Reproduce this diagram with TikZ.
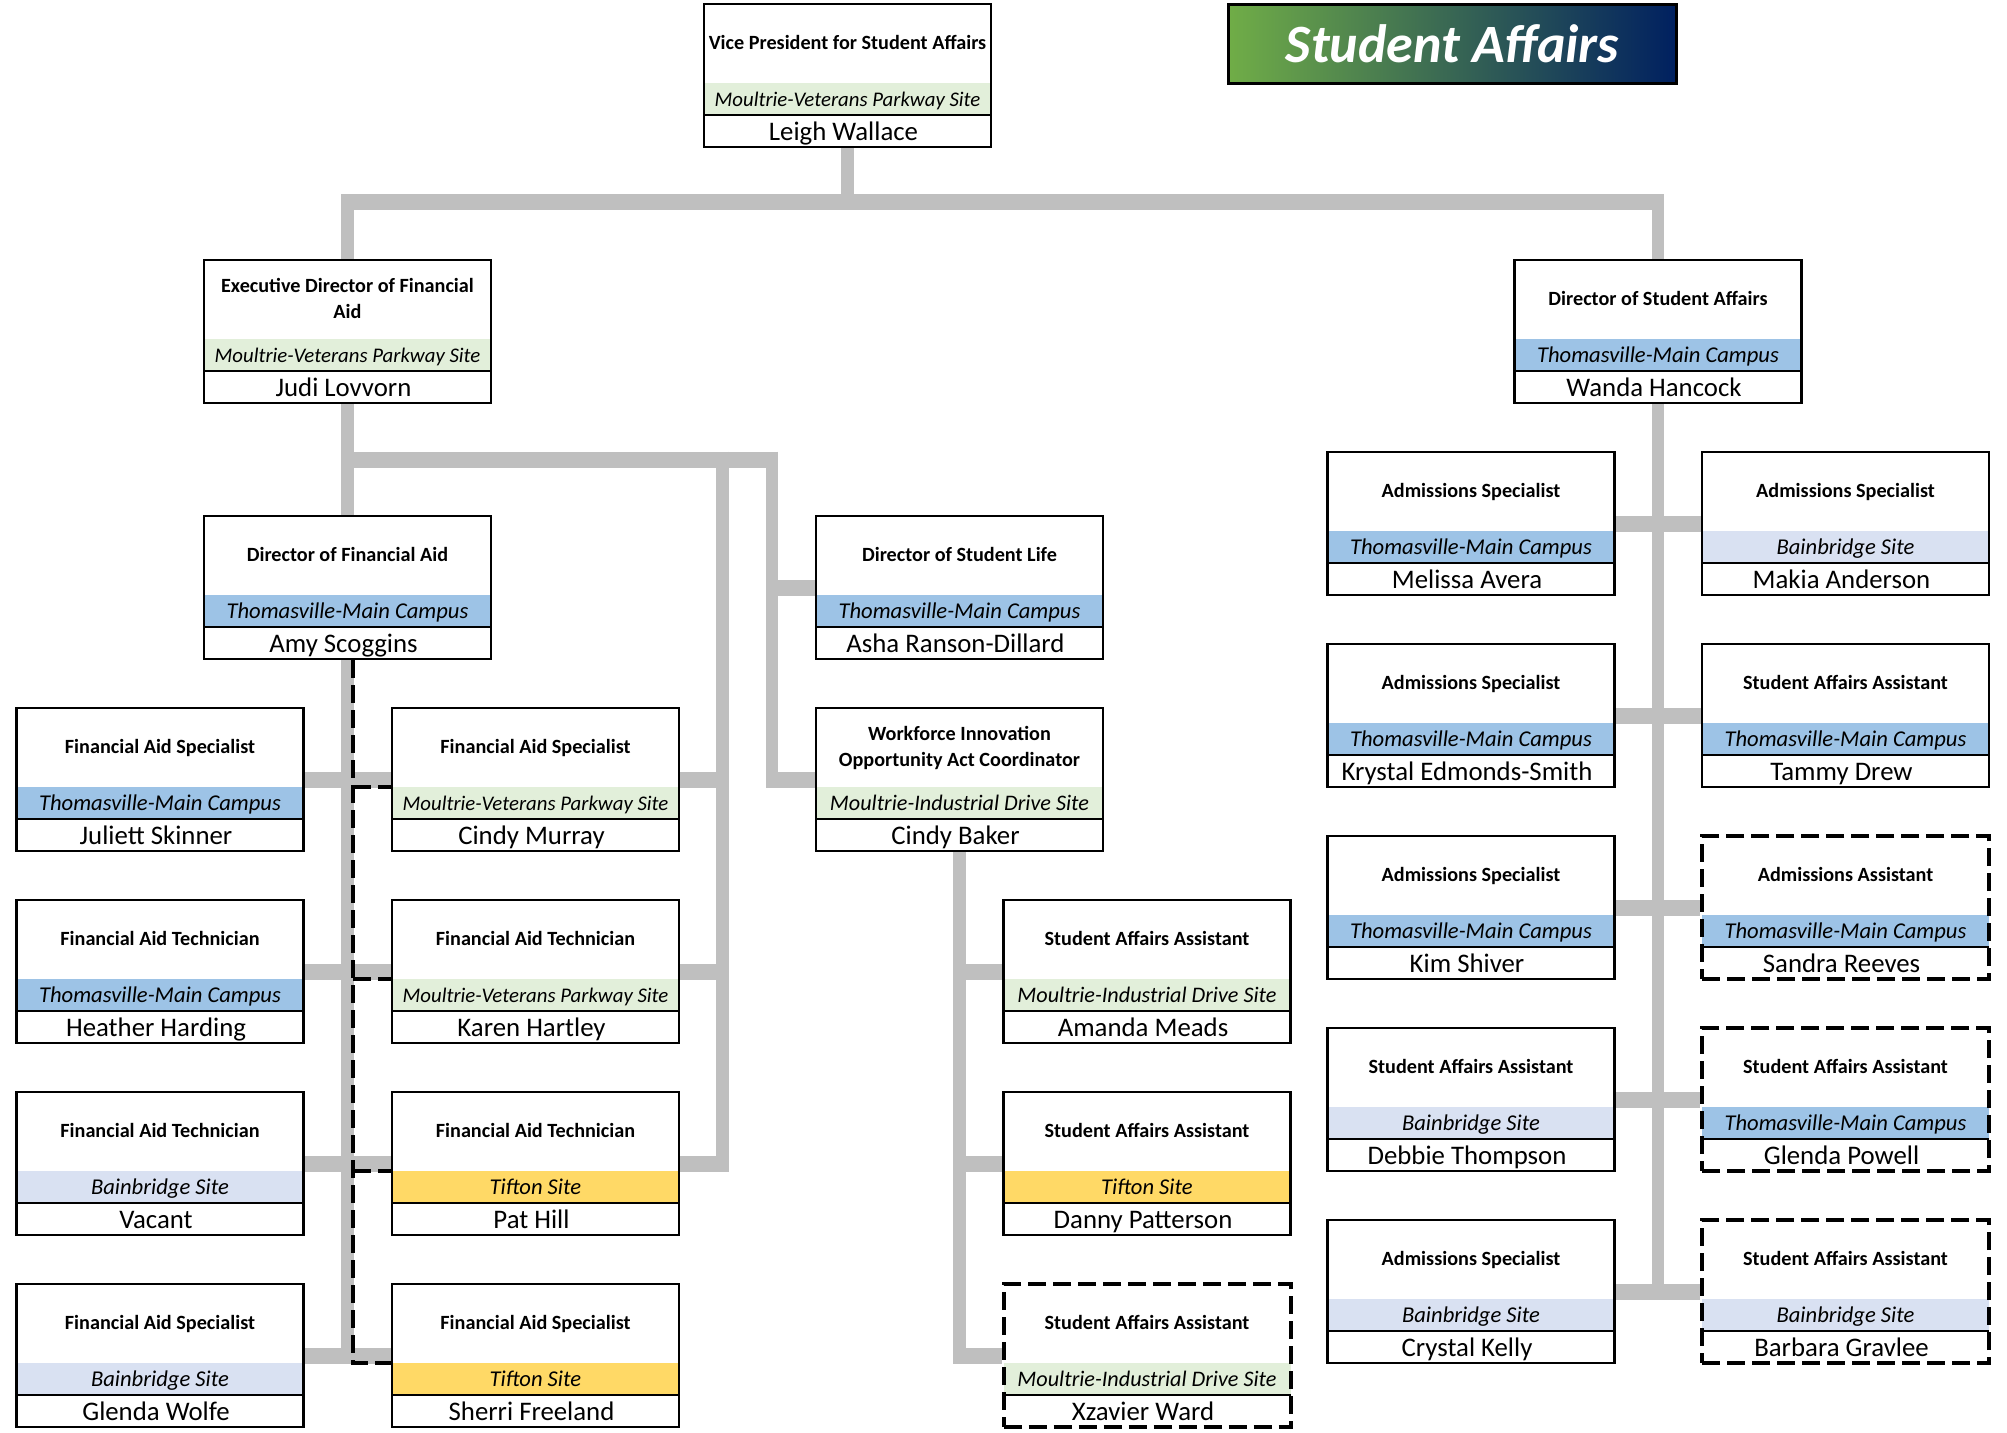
\documentclass[tikz,border=0pt]{standalone}
\usepackage{fontspec}
\setmainfont{Carlito}
\usetikzlibrary{calc}
\definecolor{tmc}{HTML}{9DC3E6}
\definecolor{mvp}{HTML}{E2EFDA}
\definecolor{bbs}{HTML}{D9E1F2}
\definecolor{tif}{HTML}{FFD966}
\definecolor{conn}{HTML}{BFBFBF}
\definecolor{bgreen}{HTML}{70AD47}
\definecolor{bnavy}{HTML}{002060}
\pgfdeclarelayer{bg}
\pgfsetlayers{bg,main}
\newcommand{\siteMVP}{{\fontsize{20.8}{24}\selectfont Moultrie-Veterans Parkway Site}}
\newcommand{\siteMID}{{\fontsize{22.2}{24}\selectfont Moultrie-Industrial Drive Site}}
% #1 name, #2 cx, #3 top, #4 title baseline offset (last line), #5 title, #6 site, #7 site colour, #8 person, #9 frame style
\newcommand{\orgbox}[9]{%
  \fill[#7] ({#2-143.5},{#3+80}) rectangle ({#2+143.5},{#3+112});
  \draw[sepline] ({#2-143.5},{#3+112}) -- ({#2+143.5},{#3+112});
  \node[#9] (#1) at ({#2},{#3+72.5}) {};
  \node[titletext] at ({#2},{#3+#4}) {#5};
  \node[sitetext] at ({#2},{#3+103}) {#6};
  \node[nametext] at ({#2-4},{#3+137}) {#8};
}
\begin{document}
\begin{tikzpicture}[x=1pt,y=-1pt,
  framebox/.style={draw, line width=2.8pt, minimum width=287pt, minimum height=143pt, inner sep=0pt},
  dashbox/.style={framebox, line width=4pt, dash pattern=on 18pt off 7pt},
  sepline/.style={line width=2.7pt},
  titletext/.style={anchor=base, align=center, inner sep=0pt, font=\fontsize{20.2}{25.5}\selectfont\bfseries},
  sitetext/.style={anchor=base, inner sep=0pt, font=\fontsize{22.6}{26}\selectfont\itshape},
  nametext/.style={anchor=base, inner sep=0pt, font=\fontsize{26.8}{30}\selectfont},
  vl/.style={draw=conn, line width=12.5pt},
  hl/.style={draw=conn, line width=16pt},
  dashl/.style={draw=black, line width=4pt, dash pattern=on 18pt off 7pt},
  banner/.style={draw, line width=3pt, left color=bgreen, right color=bnavy, minimum width=448pt, minimum height=79pt, text=white, inner sep=0pt, font=\fontsize{54}{60}\selectfont\bfseries\itshape}
]
\useasboundingbox (0,0) rectangle (2007,1432);

\node[banner] (banner) at (1452.5,43.5) {Student Affairs};

\orgbox{vp}{847.5}{3}{46}{Vice President for Student Affairs}{\siteMVP}{mvp}{Leigh Wallace}{framebox}
\orgbox{exec}{347.5}{259}{59}{Executive Director of Financial\\Aid}{\siteMVP}{mvp}{Judi Lovvorn}{framebox}
\orgbox{dsa}{1658}{259}{46}{Director of Student Affairs}{Thomasville-Main Campus}{tmc}{Wanda Hancock}{framebox}
\orgbox{dirfa}{347.5}{515}{46}{Director of Financial Aid}{Thomasville-Main Campus}{tmc}{Amy Scoggins}{framebox}
\orgbox{dsl}{959.5}{515}{46}{Director of Student Life}{Thomasville-Main Campus}{tmc}{Asha Ranson-Dillard}{framebox}
\orgbox{wioa}{959.5}{707}{59}{Workforce Innovation\\Opportunity Act Coordinator}{\siteMID}{mvp}{Cindy Baker}{framebox}

\orgbox{a1}{160}{707}{46}{Financial Aid Specialist}{Thomasville-Main Campus}{tmc}{Juliett Skinner}{framebox}
\orgbox{a2}{160}{899}{46}{Financial Aid Technician}{Thomasville-Main Campus}{tmc}{Heather Harding}{framebox}
\orgbox{a3}{160}{1091}{46}{Financial Aid Technician}{Bainbridge Site}{bbs}{Vacant}{framebox}
\orgbox{a4}{160}{1283}{46}{Financial Aid Specialist}{Bainbridge Site}{bbs}{Glenda Wolfe}{framebox}

\orgbox{b1}{535.5}{707}{46}{Financial Aid Specialist}{\siteMVP}{mvp}{Cindy Murray}{framebox}
\orgbox{b2}{535.5}{899}{46}{Financial Aid Technician}{\siteMVP}{mvp}{Karen Hartley}{framebox}
\orgbox{b3}{535.5}{1091}{46}{Financial Aid Technician}{Tifton Site}{tif}{Pat Hill}{framebox}
\orgbox{b4}{535.5}{1283}{46}{Financial Aid Specialist}{Tifton Site}{tif}{Sherri Freeland}{framebox}

\orgbox{e1}{1147}{899}{46}{Student Affairs Assistant}{\siteMID}{mvp}{Amanda Meads}{framebox}
\orgbox{e2}{1147}{1091}{46}{Student Affairs Assistant}{Tifton Site}{tif}{Danny Patterson}{framebox}
\orgbox{e3}{1147}{1283}{46}{Student Affairs Assistant}{\siteMID}{mvp}{Xzavier Ward}{dashbox}

\orgbox{f1}{1471}{451}{46}{Admissions Specialist}{Thomasville-Main Campus}{tmc}{Melissa Avera}{framebox}
\orgbox{f2}{1471}{643}{46}{Admissions Specialist}{Thomasville-Main Campus}{tmc}{Krystal Edmonds-Smith}{framebox}
\orgbox{f3}{1471}{835}{46}{Admissions Specialist}{Thomasville-Main Campus}{tmc}{Kim Shiver}{framebox}
\orgbox{f4}{1471}{1027}{46}{Student Affairs Assistant}{Bainbridge Site}{bbs}{Debbie Thompson}{framebox}
\orgbox{f5}{1471}{1219}{46}{Admissions Specialist}{Bainbridge Site}{bbs}{Crystal Kelly}{framebox}

\orgbox{g1}{1845.5}{451}{46}{Admissions Specialist}{Bainbridge Site}{bbs}{Makia Anderson}{framebox}
\orgbox{g2}{1845.5}{643}{46}{Student Affairs Assistant}{Thomasville-Main Campus}{tmc}{Tammy Drew}{framebox}
\orgbox{g3}{1845.5}{835}{46}{Admissions Assistant}{Thomasville-Main Campus}{tmc}{Sandra Reeves}{dashbox}
\orgbox{g4}{1845.5}{1027}{46}{Student Affairs Assistant}{Thomasville-Main Campus}{tmc}{Glenda Powell}{dashbox}
\orgbox{g5}{1845.5}{1219}{46}{Student Affairs Assistant}{Bainbridge Site}{bbs}{Barbara Gravlee}{dashbox}

\coordinate (yTop) at (0,202);
\coordinate (cB) at (722.5,459.5);
\coordinate (cD) at (772,459.5);
\coordinate (dx) at (353,0);

\begin{pgfonlayer}{bg}
  \fill[white] (0,0) rectangle (2007,1432);
  \draw[vl] (vp.south) -- (vp.south |- yTop);
  \draw[hl] (exec.north |- yTop) -- (dsa.north |- yTop);
  \draw[vl] ($(exec.north |- yTop)+(0,-8)$) -- (exec.north);
  \draw[vl] ($(dsa.north |- yTop)+(0,-8)$) -- (dsa.north);
  \draw[vl] (exec.south) -- (dirfa.north);
  \draw[hl] (exec.south |- cB) -- (cD);
  \draw[vl] ($(cB)+(0,-8)$) -- ($(cB |- b3.east)+(0,8)$);
  \draw[vl] ($(cD)+(0,-8)$) -- ($(cD |- wioa.west)+(0,8)$);
  \foreach \n in {b1,b2,b3} \draw[hl] (\n.east) -- (cB |- \n.east);
  \draw[hl] (cD |- dsl.west) -- (dsl.west);
  \draw[hl] (cD |- wioa.west) -- (wioa.west);
  \draw[vl] (dirfa.south) -- ($(dirfa.south |- a4.east)+(0,8)$);
  \foreach \r in {1,2,3,4} \draw[hl] (a\r.east) -- (b\r.west);
  \draw[vl] (wioa.south) -- ($(wioa.south |- e3.west)+(0,8)$);
  \foreach \n in {e1,e2,e3} \draw[hl] (wioa.south |- \n.west) -- (\n.west);
  \draw[vl] (dsa.south) -- ($(dsa.south |- f5.east)+(0,8)$);
  \foreach \r in {1,...,5} \draw[hl] (f\r.east) -- (g\r.west);
  \draw[dashl] (dirfa.south -| dx) -- ($(dx |- b4.west)+(0,7.5)$) -- ($(b4.west)+(0,7.5)$);
  \foreach \n in {b1,b2,b3} \draw[dashl] ($(dx |- \n.west)+(0,7.5)$) -- ($(\n.west)+(0,7.5)$);
\end{pgfonlayer}
\end{tikzpicture}
\end{document}
